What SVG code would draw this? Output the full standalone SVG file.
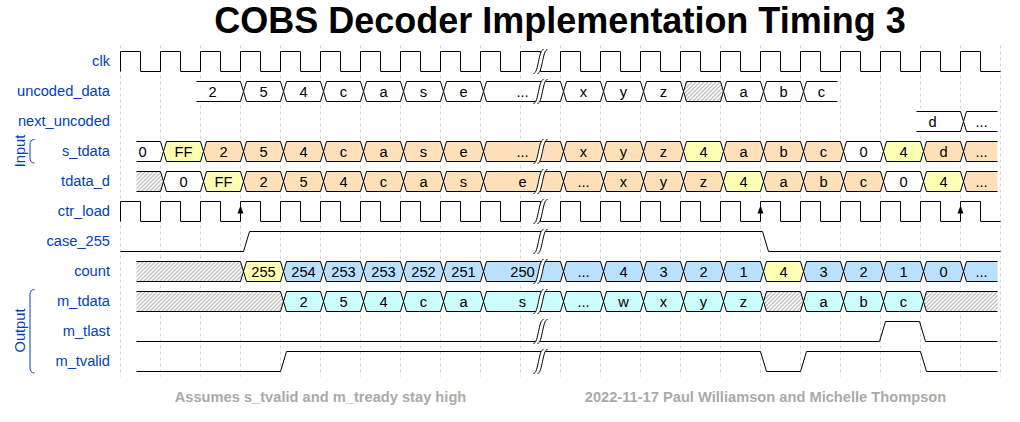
<svg xmlns="http://www.w3.org/2000/svg" width="1020" height="422" viewBox="0 0 1020 422">
<style>
text{font-family:"Liberation Sans",Arial,Helvetica,sans-serif;}
.title{font-size:36px;font-weight:bold;fill:#000;text-anchor:middle;}
.foot{font-size:14.67px;font-weight:bold;fill:#aaaaaa;text-anchor:middle;}
.lbl{font-size:14.67px;fill:#0041c4;text-anchor:end;}
.grp{font-size:14.67px;fill:#0041c4;text-anchor:middle;}
.dt{font-size:14.67px;fill:#000;text-anchor:middle;}
.w{fill:none;stroke:#000;stroke-width:1;}
.s{stroke:#000;stroke-width:1;}
.c2{fill:#ffffff;}
.c3{fill:#ffffb4;}
.c4{fill:#ffe0b9;}
.c5{fill:#b9e0ff;}
.c6{fill:#ccfdfe;}
.cx{fill:url(#hatch);}
.grid{fill:none;stroke:#c8c8c8;stroke-width:0.8;stroke-dasharray:3,3;}
.brk{fill:none;stroke:#0041c4;stroke-width:1;}
</style>
<defs>
<pattern id="hatch" patternUnits="userSpaceOnUse" width="4" height="4">
<rect width="4" height="4" fill="#fff"/>
<path d="M-1,1 L1,-1 M0,4 L4,0 M3,5 L5,3" stroke="#777" stroke-width="0.9"/>
</pattern>
<path id="h1" d="M3,10 L6,0 H40 L43,10 L40,20 H6 Z" stroke="#000" stroke-width="1"/>
<path id="h2" d="M3,10 L6,0 H80 L83,10 L80,20 H6 Z" stroke="#000" stroke-width="1"/>
<path id="clkw" class="w" d="M120,20 V0 H140 V20 H160 V0 H180 V20 H200 V0 H220 V20 H240 V0 H260 V20 H280 V0 H300 V20 H320 V0 H340 V20 H360 V0 H380 V20 H400 V0 H420 V20 H440 V0 H460 V20 H480 V0 H500 V20 H520 V0 H540 V20 H560 V0 H580 V20 H600 V0 H620 V20 H640 V0 H660 V20 H680 V0 H700 V20 H720 V0 H740 V20 H760 V0 H780 V20 H800 V0 H820 V20 H840 V0 H860 V20 H880 V0 H900 V20 H920 V0 H940 V20 H960 V0 H980 V20 H1000"/>
<g id="gap">
<path d="M-7,22 C-2,22 -2,-2 3,-2 L7,-2 C2,-2 2,22 -3,22 Z" fill="#fff" stroke="none"/>
<path d="M-7,22 C-2,22 -2,-2 3,-2 M-3,22 C2,22 2,-2 7,-2" fill="none" stroke="#000" stroke-width="1"/>
</g>
</defs>
<rect width="1020" height="422" fill="#fff"/>
<text class="title" x="560" y="33">COBS Decoder Implementation Timing 3</text>
<g transform="translate(0.5,0.5)">
<path class="grid" d="M120,45 V376 M160,45 V376 M200,45 V376 M240,45 V376 M280,45 V376 M320,45 V376 M360,45 V376 M400,45 V376 M440,45 V376 M480,45 V376 M520,45 V376 M560,45 V376 M600,45 V376 M640,45 V376 M680,45 V376 M720,45 V376 M760,45 V376 M800,45 V376 M840,45 V376 M880,45 V376 M920,45 V376 M960,45 V376 M1000,45 V376"/>
</g>
<g id="labels">
<text class="lbl" x="110" y="66">clk</text>
<text class="lbl" x="110" y="96">uncoded_data</text>
<text class="lbl" x="110" y="126">next_uncoded</text>
<text class="lbl" x="110" y="156">s_tdata</text>
<text class="lbl" x="110" y="186">tdata_d</text>
<text class="lbl" x="110" y="216">ctr_load</text>
<text class="lbl" x="110" y="246">case_255</text>
<text class="lbl" x="110" y="276">count</text>
<text class="lbl" x="110" y="306">m_tdata</text>
<text class="lbl" x="110" y="336">m_tlast</text>
<text class="lbl" x="110" y="366">m_tvalid</text>
</g>
<g id="group-input">
<path class="brk" d="M34.5,139.5 c-3,0 -4.5,2 -4.5,5 V158 c0,3 1.5,5 4.5,5"/>
<text class="grp" transform="translate(24.5,151) rotate(-90)">Input</text>
</g>
<g id="group-output">
<path class="brk" d="M34.5,289.5 c-3,0 -4.5,2 -4.5,5 V368 c0,3 1.5,5 4.5,5"/>
<text class="grp" transform="translate(24.5,330.5) rotate(-90)">Output</text>
</g>
<g transform="translate(0.5,0.5)">
<g id="sig-clk">
<use href="#clkw" y="51"/>
</g>
<g id="sig-uncoded_data">
<path class="c2 s" d="M196,81 H240 L243,91 L240,101 H196"/>
<use href="#h1" class="c2" x="240" y="81"/>
<use href="#h1" class="c2" x="280" y="81"/>
<use href="#h1" class="c2" x="320" y="81"/>
<use href="#h1" class="c2" x="360" y="81"/>
<use href="#h1" class="c2" x="400" y="81"/>
<use href="#h1" class="c2" x="440" y="81"/>
<use href="#h2" class="c2" x="480" y="81"/>
<use href="#h1" class="c2" x="560" y="81"/>
<use href="#h1" class="c2" x="600" y="81"/>
<use href="#h1" class="c2" x="640" y="81"/>
<use href="#h1" class="cx" x="680" y="81"/>
<use href="#h1" class="c2" x="720" y="81"/>
<use href="#h1" class="c2" x="760" y="81"/>
<path class="c2 s" d="M837,81 H806 L803,91 L806,101 H837"/>
<text class="dt" y="96"><tspan x="212">2</tspan><tspan x="263">5</tspan><tspan x="303">4</tspan><tspan x="343">c</tspan><tspan x="383">a</tspan><tspan x="423">s</tspan><tspan x="463">e</tspan><tspan x="522">...</tspan><tspan x="583">x</tspan><tspan x="623">y</tspan><tspan x="663">z</tspan><tspan x="743">a</tspan><tspan x="783">b</tspan><tspan x="821">c</tspan></text>
<use href="#gap" x="540" y="81"/>
</g>
<g id="sig-next_uncoded">
<path class="c2 s" d="M916,111 H960 L963,121 L960,131 H916"/>
<path class="c2 s" d="M997,111 H966 L963,121 L966,131 H997"/>
<text class="dt" y="126"><tspan x="932">d</tspan><tspan x="981">...</tspan></text>
</g>
<g id="sig-s_tdata">
<path class="c2 s" d="M136,141 H160 L163,151 L160,161 H136"/>
<use href="#h1" class="c3" x="160" y="141"/>
<use href="#h1" class="c4" x="200" y="141"/>
<use href="#h1" class="c4" x="240" y="141"/>
<use href="#h1" class="c4" x="280" y="141"/>
<use href="#h1" class="c4" x="320" y="141"/>
<use href="#h1" class="c4" x="360" y="141"/>
<use href="#h1" class="c4" x="400" y="141"/>
<use href="#h1" class="c4" x="440" y="141"/>
<use href="#h2" class="c4" x="480" y="141"/>
<use href="#h1" class="c4" x="560" y="141"/>
<use href="#h1" class="c4" x="600" y="141"/>
<use href="#h1" class="c4" x="640" y="141"/>
<use href="#h1" class="c3" x="680" y="141"/>
<use href="#h1" class="c4" x="720" y="141"/>
<use href="#h1" class="c4" x="760" y="141"/>
<use href="#h1" class="c4" x="800" y="141"/>
<use href="#h1" class="c2" x="840" y="141"/>
<use href="#h1" class="c3" x="880" y="141"/>
<use href="#h1" class="c4" x="920" y="141"/>
<path class="c4 s" d="M997,141 H966 L963,151 L966,161 H997"/>
<text class="dt" y="156"><tspan x="142">0</tspan><tspan x="183">FF</tspan><tspan x="223">2</tspan><tspan x="263">5</tspan><tspan x="303">4</tspan><tspan x="343">c</tspan><tspan x="383">a</tspan><tspan x="423">s</tspan><tspan x="463">e</tspan><tspan x="522">...</tspan><tspan x="583">x</tspan><tspan x="623">y</tspan><tspan x="663">z</tspan><tspan x="703">4</tspan><tspan x="743">a</tspan><tspan x="783">b</tspan><tspan x="823">c</tspan><tspan x="863">0</tspan><tspan x="903">4</tspan><tspan x="943">d</tspan><tspan x="981">...</tspan></text>
<use href="#gap" x="540" y="141"/>
</g>
<g id="sig-tdata_d">
<path class="cx s" d="M136,171 H160 L163,181 L160,191 H136"/>
<use href="#h1" class="c2" x="160" y="171"/>
<use href="#h1" class="c3" x="200" y="171"/>
<use href="#h1" class="c4" x="240" y="171"/>
<use href="#h1" class="c4" x="280" y="171"/>
<use href="#h1" class="c4" x="320" y="171"/>
<use href="#h1" class="c4" x="360" y="171"/>
<use href="#h1" class="c4" x="400" y="171"/>
<use href="#h1" class="c4" x="440" y="171"/>
<use href="#h2" class="c4" x="480" y="171"/>
<use href="#h1" class="c4" x="560" y="171"/>
<use href="#h1" class="c4" x="600" y="171"/>
<use href="#h1" class="c4" x="640" y="171"/>
<use href="#h1" class="c4" x="680" y="171"/>
<use href="#h1" class="c3" x="720" y="171"/>
<use href="#h1" class="c4" x="760" y="171"/>
<use href="#h1" class="c4" x="800" y="171"/>
<use href="#h1" class="c4" x="840" y="171"/>
<use href="#h1" class="c2" x="880" y="171"/>
<use href="#h1" class="c3" x="920" y="171"/>
<path class="c4 s" d="M997,171 H966 L963,181 L966,191 H997"/>
<text class="dt" y="186"><tspan x="183">0</tspan><tspan x="223">FF</tspan><tspan x="263">2</tspan><tspan x="303">5</tspan><tspan x="343">4</tspan><tspan x="383">c</tspan><tspan x="423">a</tspan><tspan x="463">s</tspan><tspan x="522">e</tspan><tspan x="583">...</tspan><tspan x="623">x</tspan><tspan x="663">y</tspan><tspan x="703">z</tspan><tspan x="743">4</tspan><tspan x="783">a</tspan><tspan x="823">b</tspan><tspan x="863">c</tspan><tspan x="903">0</tspan><tspan x="943">4</tspan><tspan x="981">...</tspan></text>
<use href="#gap" x="540" y="171"/>
</g>
<g id="sig-ctr_load">
<use href="#clkw" y="201"/>
<path d="M240,205 L237,213 L243,213 Z M760,205 L757,213 L763,213 Z M960,205 L957,213 L963,213 Z" fill="#000"/>
</g>
<g id="sig-case_255">
<path class="w" d="M120,251 H243 L249,231 H762 L768,251 H1000"/>
</g>
<g id="sig-count">
<path class="cx s" d="M136,261 H240 L243,271 L240,281 H136"/>
<use href="#h1" class="c3" x="240" y="261"/>
<use href="#h1" class="c5" x="280" y="261"/>
<use href="#h1" class="c5" x="320" y="261"/>
<use href="#h1" class="c5" x="360" y="261"/>
<use href="#h1" class="c5" x="400" y="261"/>
<use href="#h1" class="c5" x="440" y="261"/>
<use href="#h2" class="c5" x="480" y="261"/>
<use href="#h1" class="c5" x="560" y="261"/>
<use href="#h1" class="c5" x="600" y="261"/>
<use href="#h1" class="c5" x="640" y="261"/>
<use href="#h1" class="c5" x="680" y="261"/>
<use href="#h1" class="c5" x="720" y="261"/>
<use href="#h1" class="c3" x="760" y="261"/>
<use href="#h1" class="c5" x="800" y="261"/>
<use href="#h1" class="c5" x="840" y="261"/>
<use href="#h1" class="c5" x="880" y="261"/>
<use href="#h1" class="c5" x="920" y="261"/>
<path class="c5 s" d="M997,261 H966 L963,271 L966,281 H997"/>
<text class="dt" y="276"><tspan x="263">255</tspan><tspan x="303">254</tspan><tspan x="343">253</tspan><tspan x="383">253</tspan><tspan x="423">252</tspan><tspan x="463">251</tspan><tspan x="522">250</tspan><tspan x="583">...</tspan><tspan x="623">4</tspan><tspan x="663">3</tspan><tspan x="703">2</tspan><tspan x="743">1</tspan><tspan x="783">4</tspan><tspan x="823">3</tspan><tspan x="863">2</tspan><tspan x="903">1</tspan><tspan x="943">0</tspan><tspan x="981">...</tspan></text>
<use href="#gap" x="540" y="261"/>
</g>
<g id="sig-m_tdata">
<path class="cx s" d="M136,291 H280 L283,301 L280,311 H136"/>
<use href="#h1" class="c6" x="280" y="291"/>
<use href="#h1" class="c6" x="320" y="291"/>
<use href="#h1" class="c6" x="360" y="291"/>
<use href="#h1" class="c6" x="400" y="291"/>
<use href="#h1" class="c6" x="440" y="291"/>
<use href="#h2" class="c6" x="480" y="291"/>
<use href="#h1" class="c6" x="560" y="291"/>
<use href="#h1" class="c6" x="600" y="291"/>
<use href="#h1" class="c6" x="640" y="291"/>
<use href="#h1" class="c6" x="680" y="291"/>
<use href="#h1" class="c6" x="720" y="291"/>
<use href="#h1" class="cx" x="760" y="291"/>
<use href="#h1" class="c6" x="800" y="291"/>
<use href="#h1" class="c6" x="840" y="291"/>
<use href="#h1" class="c6" x="880" y="291"/>
<path class="cx s" d="M997,291 H926 L923,301 L926,311 H997"/>
<text class="dt" y="306"><tspan x="303">2</tspan><tspan x="343">5</tspan><tspan x="383">4</tspan><tspan x="423">c</tspan><tspan x="463">a</tspan><tspan x="522">s</tspan><tspan x="583">...</tspan><tspan x="623">w</tspan><tspan x="663">x</tspan><tspan x="703">y</tspan><tspan x="743">z</tspan><tspan x="823">a</tspan><tspan x="863">b</tspan><tspan x="903">c</tspan></text>
<use href="#gap" x="540" y="291"/>
</g>
<g id="sig-m_tlast">
<path class="w" d="M136,341 H879 L885,321 H919 L925,341 H997"/>
</g>
<g id="sig-m_tvalid">
<path class="w" d="M136,371 H280 L286,351 H760 L766,371 H800 L806,351 H920 L926,371 H997"/>
</g>
<g id="gaps">
<use href="#gap" x="540" y="51"/>
<use href="#gap" x="540" y="201"/>
<use href="#gap" x="540" y="231"/>
<use href="#gap" x="540" y="321"/>
<use href="#gap" x="540" y="351"/>
</g>
</g>
<text class="foot" x="320.5" y="402">Assumes s_tvalid and m_tready stay high</text>
<text class="foot" x="765.5" y="402">2022-11-17 Paul Williamson and Michelle Thompson</text>
</svg>
